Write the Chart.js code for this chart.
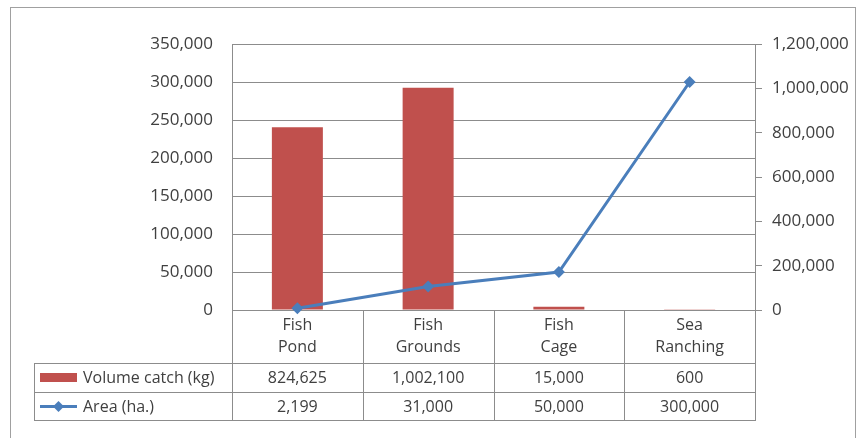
<!DOCTYPE html>
<html>
<head>
<meta charset="utf-8">
<script src="https://cdn.jsdelivr.net/npm/chart.js@4/dist/chart.umd.min.js"></script>
<style>
  body { margin: 0; background: #fff; }
  #wrap { width: 857px; height: 438px; }
</style>
</head>
<body>
<div id="wrap"><canvas id="myChart" width="857" height="438"></canvas></div>
<script>
// chart data
const categories = [['Fish', 'Pond'], ['Fish', 'Grounds'], ['Fish', 'Cage'], ['Sea', 'Ranching']];
const volumeCatch = [824625, 1002100, 15000, 600];
const area = [2199, 31000, 50000, 300000];
const volumeLabel = 'Volume catch (kg)';
const areaLabel = 'Area (ha.)';

const RED = '#C0504D';
const BLUE = '#4A7EBB';
const GRID = '#8C8C8C';
const TEXT = '#404040';
const FONT = '"Open Sans", sans-serif';

function fmt(v) { return Number(v).toLocaleString('en-US'); }

// draws the frame and the data table under the plot
const tablePlugin = {
  id: 'dataTable',
  afterDraw(chart) {
    const ctx = chart.ctx;
    const xs = chart.scales.x;
    const area_ = chart.chartArea;
    const n = categories.length;
    const w = (area_.right - area_.left) / n;
    const tableLeft = 34;
    const row1 = 363, row2 = 392, row3 = 420;

    ctx.save();
    // outer frame
    ctx.strokeStyle = '#A0A0A0';
    ctx.lineWidth = 1;
    ctx.strokeRect(10.5, 7.5, 845, 440);

    // table lines
    ctx.strokeStyle = GRID;
    ctx.beginPath();
    for (let i = 0; i <= n; i++) {
      const x = Math.round(area_.left + i * w) + 0.5;
      ctx.moveTo(x, area_.bottom);
      ctx.lineTo(x, row3);
    }
    ctx.moveTo(tableLeft + 0.5, row1);
    ctx.lineTo(tableLeft + 0.5, row3);
    [row1, row2, row3].forEach(y => {
      ctx.moveTo(tableLeft, y + 0.5);
      ctx.lineTo(area_.right + 1, y + 0.5);
    });
    ctx.stroke();

    ctx.fillStyle = TEXT;
    ctx.font = '16px ' + FONT;
    ctx.textAlign = 'center';
    ctx.textBaseline = 'middle';
    categories.forEach((lab, i) => {
      const cx = xs.getPixelForValue(i);
      ctx.fillText(lab[0], cx, 325);
      ctx.fillText(lab[1], cx, 347);
      ctx.fillText(fmt(volumeCatch[i]), cx, (row1 + row2) / 2 + 1);
      ctx.fillText(fmt(area[i]), cx, (row2 + row3) / 2 + 1);
    });

    // legend keys
    ctx.fillStyle = RED;
    ctx.fillRect(40, 373, 37, 9);
    ctx.strokeStyle = BLUE;
    ctx.lineWidth = 3;
    ctx.beginPath();
    ctx.moveTo(40, 406.5);
    ctx.lineTo(77, 406.5);
    ctx.stroke();
    ctx.fillStyle = BLUE;
    ctx.beginPath();
    ctx.moveTo(58.5, 401);
    ctx.lineTo(64, 406.5);
    ctx.lineTo(58.5, 412);
    ctx.lineTo(53, 406.5);
    ctx.closePath();
    ctx.fill();

    ctx.fillStyle = TEXT;
    ctx.textAlign = 'left';
    ctx.fillText(volumeLabel, 83, (row1 + row2) / 2 + 1);
    ctx.fillText(areaLabel, 83, (row2 + row3) / 2 + 1);
    ctx.restore();
  }
};

const ctx = document.getElementById('myChart').getContext('2d');
const myChart = new Chart(ctx, {
  type: 'bar',
  data: {
    labels: categories,
    datasets: [
      {
        type: 'line',
        label: areaLabel,
        data: area,
        yAxisID: 'y',
        borderColor: BLUE,
        backgroundColor: BLUE,
        borderWidth: 3,
        pointStyle: 'rectRot',
        pointRadius: 6,
        pointBorderWidth: 0,
        tension: 0,
        clip: false,
        order: 0
      },
      {
        type: 'bar',
        label: volumeLabel,
        data: volumeCatch,
        yAxisID: 'y1',
        backgroundColor: RED,
        barPercentage: 0.39,
        categoryPercentage: 1.0,
        order: 1
      }
    ]
  },
  options: {
    responsive: false,
    animation: false,
    layout: { padding: { left: 0, right: 0, top: 44, bottom: 128 } },
    plugins: { legend: { display: false }, tooltip: { enabled: false } },
    scales: {
      x: { display: false, offset: true },
      y: {
        position: 'left',
        min: 0,
        max: 350000,
        afterFit(s) { s.width = 232; },
        ticks: {
          stepSize: 50000,
          padding: 19,
          color: TEXT,
          font: { family: FONT, size: 17 },
          callback: v => fmt(v)
        },
        grid: { color: GRID, drawTicks: false },
        border: { color: GRID }
      },
      y1: {
        position: 'right',
        min: 0,
        max: 1200000,
        afterFit(s) { s.width = 102; },
        ticks: {
          stepSize: 200000,
          padding: 10,
          color: TEXT,
          font: { family: FONT, size: 17 },
          callback: v => fmt(v)
        },
        grid: { color: GRID, drawOnChartArea: false, tickLength: 7 },
        border: { color: GRID }
      }
    }
  },
  plugins: [tablePlugin]
});
</script>
</body>
</html>
